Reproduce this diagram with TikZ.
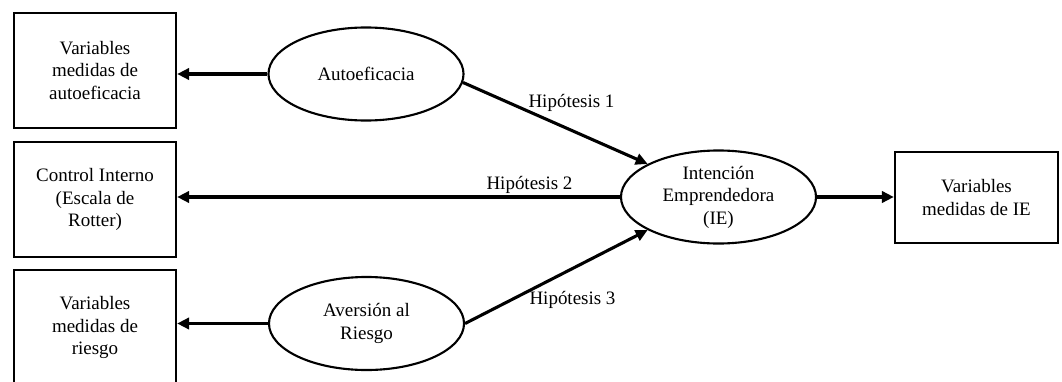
\documentclass[tikz,border=0pt]{standalone}
\usepackage{fontspec}
\setmainfont{Liberation Serif}
\usetikzlibrary{arrows.meta,shapes.geometric}
\tikzset{
    caja/.style={draw, line width=1.6pt, align=center, minimum width=4.05cm, minimum height=2.875cm, inner sep=0pt},
    latente/.style={draw, ellipse, line width=1.5pt, align=center, minimum width=4.875cm, minimum height=2.325cm, inner sep=0pt},
    flecha/.style={->, line width=2.2pt},
    hip/.style={inner sep=1pt}
}
\begin{document}
\begin{tikzpicture}[x=0.025cm, y=-0.025cm, >={Triangle[length=8.5pt, width=8pt]},
        every node/.style={font=\fontsize{13.5}{16}\selectfont}]
            \clip (0,0) rectangle (1062,381);
            \node[caja] (varauto) at (95,70.5) {Variables\\medidas de\\autoeficacia};
            \node[caja] (ctrl) at (95,199.5) {Control Interno\\(Escala de\\Rotter)};
            \node[caja] (varriesgo) at (95,327.5) {Variables\\medidas de\\riesgo};
            \node[caja, minimum width=4.075cm, minimum height=2.275cm] (varie) at (976.5,197.5) {Variables\\medidas de IE};
            \node[latente] (auto) at (366,74) {Autoeficacia};
            \node[latente] (ie) at (718.5,197) {Intención\\Emprendedora\\(IE)};
            \node[latente] (aver) at (366.5,323.5) {Aversión al\\Riesgo};
            \draw[flecha] (auto.west) -- (auto.west -| varauto.east);
            \draw[flecha] (ie.west) -- (ie.west -| ctrl.east);
            \draw[flecha] (aver.west) -- (aver.west -| varriesgo.east);
            \draw[flecha] (ie.east) -- (ie.east -| varie.west);
            \draw[flecha] (auto.-5) -- (ie.155);
            \draw[flecha] (aver.east) -- (ie.205);
            \node[hip] (hip1) at (571.5,103) {Hipótesis 1};
            \node[hip] (hip2) at (529.5,185) {Hipótesis 2};
            \node[hip] (hip3) at (572.5,300) {Hipótesis 3};
        \end{tikzpicture}
\end{document}
